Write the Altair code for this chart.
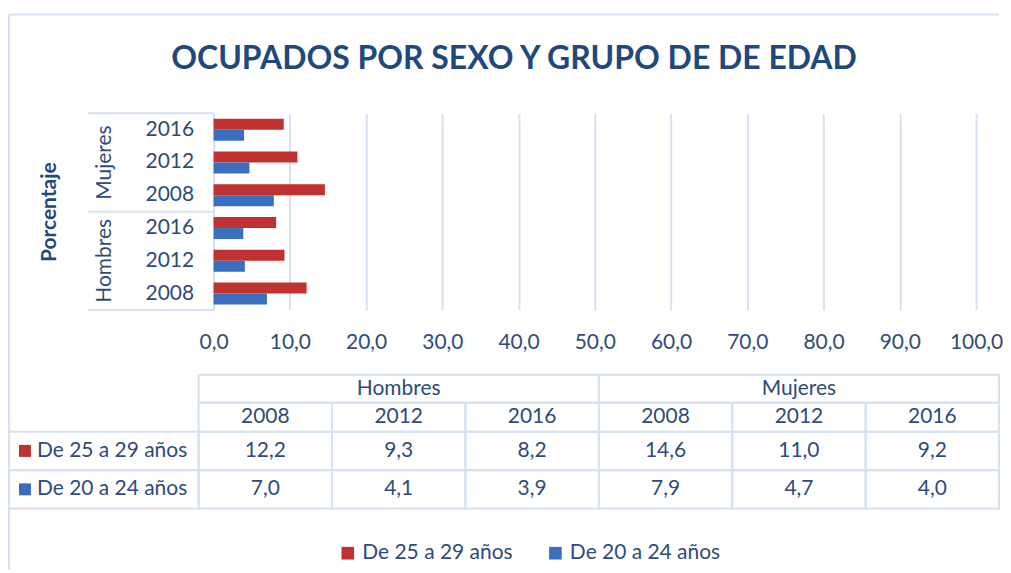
import altair as alt
import pandas as pd

# ---------------- data ----------------
sexes = ["Hombres", "Mujeres"]
years = ["2008", "2012", "2016"]
series = ["De 25 a 29 años", "De 20 a 24 años"]
# order: Hombres 2008, 2012, 2016, Mujeres 2008, 2012, 2016
v_25_29 = [12.2, 9.3, 8.2, 14.6, 11.0, 9.2]
v_20_24 = [7.0, 4.1, 3.9, 7.9, 4.7, 4.0]
x_ticks = [0, 10, 20, 30, 40, 50, 60, 70, 80, 90, 100]
title_text = "OCUPADOS POR SEXO Y GRUPO DE DE EDAD"
y_title = "Porcentaje"

# ---------------- styles ----------------
FONT = "Lato"
TXT = "#2e4b7a"
TITLE_C = "#1f497d"
GRID = "#d6e2f1"
RED = "#c0322f"
BLUE = "#3a6fc0"
FS = 21
RIGHT = 787

rows = []
cats = []
i = 0
for s in sexes:
    for y in years:
        cat = f"{s} {y}"
        cats.append(cat)
        rows.append(dict(sex=s, year=y, cat=cat, series=series[0], value=v_25_29[i]))
        rows.append(dict(sex=s, year=y, cat=cat, series=series[1], value=v_20_24[i]))
        i += 1
df = pd.DataFrame(rows)
df_cats = pd.DataFrame({"cat": cats, "year": [c.split(" ")[1] for c in cats]})
df_sex = pd.DataFrame({"sex": sexes, "mid": [f"{s} {years[1]}" for s in sexes]})
df_series = pd.DataFrame({"series": series})
dummy = pd.DataFrame({"k": [0]})

bar_order = [f"{s} {y}" for s in reversed(sexes) for y in reversed(years)]
W, H = 764, 197

y_scale = alt.Scale(domain=bar_order, paddingInner=0.33, paddingOuter=0.165)
color_scale = alt.Scale(domain=series, range=[RED, BLUE])
col_scale = alt.Scale(domain=cats, range=[-15, RIGHT], paddingInner=0, paddingOuter=0)
sex_scale = alt.Scale(domain=sexes, range=[-15, RIGHT], paddingInner=0, paddingOuter=0)
row_scale = alt.Scale(domain=series, range=[319, 396], paddingInner=0, paddingOuter=0)

fmt = "replace(format(datum.value, '.1f'), '.', ',')"

bars = alt.Chart(df).mark_bar().encode(
    x=alt.X("value:Q", scale=alt.Scale(domain=[0, 100], nice=False),
            axis=alt.Axis(values=x_ticks, labelExpr=fmt, grid=True, gridColor=GRID,
                          gridWidth=2, domain=False, ticks=False, labelPadding=22,
                          labelFlush=False, labelOverlap=False,
                          labelFontSize=FS, labelColor=TXT, labelFont=FONT, title=None)),
    y=alt.Y("cat:N", scale=y_scale,
            axis=alt.Axis(labelExpr="split(datum.label, ' ')[1]", ticks=False,
                          domainColor=GRID, domainWidth=2, labelPadding=20,
                          labelFontSize=FS, labelColor=TXT, labelFont=FONT,
                          title=y_title, titleX=-164, titleY=98.5, titleAngle=270,
                          titleAlign="center", titleBaseline="middle",
                          titleFontSize=FS, titleFont=FONT, titleColor=TITLE_C,
                          titleFontWeight="bold")),
    yOffset=alt.YOffset("series:N", scale=alt.Scale(domain=series)),
    color=alt.Color("series:N", scale=color_scale,
                    legend=alt.Legend(orient="none", legendX=124, legendY=430,
                                      direction="horizontal", title=None,
                                      symbolType="square", symbolSize=160,
                                      symbolStrokeWidth=0, labelFontSize=FS,
                                      labelColor=TXT, labelFont=FONT,
                                      columnPadding=32, labelOffset=4)),
)

groups = alt.Chart(df_sex).mark_text(angle=270, font=FONT, fontSize=FS, color=TXT,
                                     baseline="middle", align="center").encode(
    x=alt.value(-109),
    y=alt.Y("mid:N", scale=y_scale, axis=None),
    text="sex:N",
)

def hline(yv, x1, x2):
    return alt.Chart(dummy).mark_rule(color=GRID, strokeWidth=2).encode(
        x=alt.value(x1), x2=alt.value(x2), y=alt.value(yv))

sep_lines = [hline(0, -126, 0), hline(98.5, -126, 0), hline(H, -126, 0)]
box_top = hline(-99, -205, RIGHT)
box_left = alt.Chart(dummy).mark_rule(color=GRID, strokeWidth=2).encode(
    x=alt.value(-205), y=alt.value(-99), y2=alt.value(457))

title = alt.Chart(pd.DataFrame({"t": [title_text]})).mark_text(
    font=FONT, fontSize=32, fontWeight="bold", color=TITLE_C,
    align="center", baseline="middle").encode(
    text="t:N", x=alt.value(301), y=alt.value(-54))

# ---- table ----
cell = dict(fillOpacity=0, stroke=GRID, strokeWidth=2)
h1_rect = alt.Chart(df_sex).mark_rect(**cell).encode(
    x=alt.X("sex:N", scale=sex_scale, axis=None), y=alt.value(262), y2=alt.value(290))
h1_text = alt.Chart(df_sex).mark_text(font=FONT, fontSize=FS, color=TXT, baseline="middle").encode(
    x=alt.X("sex:N", scale=sex_scale, axis=None), y=alt.value(276), text="sex:N")

yr_rect = alt.Chart(df_cats).mark_rect(**cell).encode(
    x=alt.X("cat:N", scale=col_scale, axis=None), y=alt.value(290), y2=alt.value(319))
yr_text = alt.Chart(df_cats).mark_text(font=FONT, fontSize=FS, color=TXT, baseline="middle").encode(
    x=alt.X("cat:N", scale=col_scale, axis=None), y=alt.value(304.5), text="year:N")

val_rect = alt.Chart(df).mark_rect(**cell).encode(
    x=alt.X("cat:N", scale=col_scale, axis=None),
    y=alt.Y("series:N", scale=row_scale, axis=None))
val_text = alt.Chart(df).transform_calculate(
    lab="replace(format(datum.value, '.1f'), '.', ',')"
).mark_text(font=FONT, fontSize=FS, color=TXT, baseline="middle").encode(
    x=alt.X("cat:N", scale=col_scale, axis=None),
    y=alt.Y("series:N", scale=row_scale, axis=None), text="lab:N")

lab_rect = alt.Chart(df_series).mark_rect(**cell).encode(
    x=alt.value(-205), x2=alt.value(-15),
    y=alt.Y("series:N", scale=row_scale, axis=None))
lab_text = alt.Chart(df_series).mark_text(font=FONT, fontSize=FS, color=TXT,
                                          baseline="middle", align="left").encode(
    x=alt.value(-177), y=alt.Y("series:N", scale=row_scale, axis=None), text="series:N")
lab_sq = alt.Chart(df_series).mark_point(shape="square", filled=True, size=144, opacity=1).encode(
    x=alt.value(-189), y=alt.Y("series:N", scale=row_scale, axis=None),
    color=alt.Color("series:N", scale=color_scale, legend=None))

chart = alt.layer(
    box_top, box_left, title,
    h1_rect, yr_rect, val_rect, lab_rect,
    h1_text, yr_text, val_text, lab_text, lab_sq,
    *sep_lines, groups, bars,
).resolve_scale(x="independent", y="independent", color="independent").properties(
    width=W, height=H,
    padding={"left": 0, "top": 5, "right": 0, "bottom": 0},
    background="white",
).configure_view(strokeWidth=0)

chart.save("out.html", embed_options={"renderer": "svg", "actions": False})
